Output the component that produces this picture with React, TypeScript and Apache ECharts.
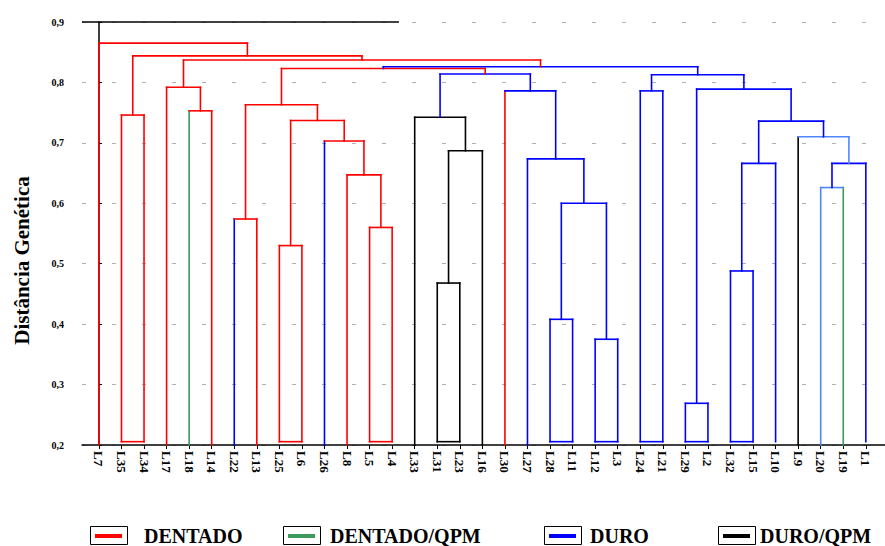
import React, { useEffect, useRef } from 'react';
import * as echarts from 'echarts';

// ---------- DATA ----------
const leaves = ['L7','L35','L34','L17','L18','L14','L22','L13','L25','L6','L26','L8','L5','L4','L33','L31','L23','L16','L30','L27','L28','L11','L12','L3','L24','L21','L29','L2','L32','L15','L10','L9','L20','L19','L1'];

// merges: [left child, right child, genetic distance]; "mK" refers to merge K
const merges: [string, string, number][] = [
  ['L29', 'L2', 0.269],   // m0
  ['L12', 'L3', 0.375],   // m1
  ['L28', 'L11', 0.408],  // m2
  ['L31', 'L23', 0.468],  // m3
  ['L32', 'L15', 0.488],  // m4
  ['L25', 'L6', 0.530],   // m5
  ['L5', 'L4', 0.560],    // m6
  ['L22', 'L13', 0.574],  // m7
  ['m2', 'm1', 0.600],    // m8
  ['L20', 'L19', 0.626],  // m9
  ['L8', 'm6', 0.647],    // m10
  ['m4', 'L10', 0.666],   // m11
  ['m9', 'L1', 0.666],    // m12
  ['L27', 'm8', 0.6735],  // m13
  ['m3', 'L16', 0.687],   // m14
  ['L26', 'm10', 0.703],  // m15
  ['L9', 'm12', 0.710],   // m16
  ['m5', 'm15', 0.737],   // m17
  ['L33', 'm14', 0.7425], // m18
  ['L35', 'L34', 0.746],  // m19
  ['L18', 'L14', 0.753],  // m20
  ['m7', 'm17', 0.763],   // m21
  ['m11', 'm16', 0.736],  // m22
  ['L24', 'L21', 0.786],  // m23
  ['L30', 'm13', 0.786],  // m24
  ['m0', 'm22', 0.789],   // m25
  ['L17', 'm20', 0.792],  // m26
  ['m23', 'm25', 0.8126], // m27
  ['m18', 'm24', 0.814],  // m28
  ['m21', 'm28', 0.823],  // m29
  ['m29', 'm27', 0.826],  // m30
  ['m26', 'm30', 0.837],  // m31
  ['m19', 'm31', 0.844],  // m32
  ['L7', 'm32', 0.865],   // m33
];

const groups = ['DENTADO', 'DENTADO/QPM', 'DURO', 'DURO/QPM'];
const yTicks = [0.2, 0.3, 0.4, 0.5, 0.6, 0.7, 0.8, 0.9];

// drawing quirks of the original figure
const boxedMerges = [0, 1, 2, 3, 4, 5, 6, 19, 23];
const shortLeaves = ['L10', 'L1'];
const BASE = 0.2;
const BOX_BOTTOM = 0.2055;
const TOP_SOLID_END = 13.3;

// ---------- STYLE ----------
const R = '#ff0000', B = '#0000ff', G = '#3b9a5c', K = '#000000', LB = '#4f86ff';
const groupColors = [R, G, B, K];
// [left arm, bar, right arm]
const one = (c: string) => [c, c, c];
const mergeColors: string[][] = [
  one(B), one(B), one(B), one(K), one(B), one(R), one(R), [B, R, R], one(B), [LB, LB, G],
  one(R), one(B), one(B), one(B), one(K), [B, R, R], [K, LB, LB], one(R), one(K), one(R),
  [G, R, R], one(R), one(B), one(B), [R, B, B], one(B), one(R), one(B), one(B), one(R),
  one(B), one(R), one(R), one(R),
];
const FONT = 'Liberation Serif';
const W = 885, H = 546;
const GRID_LEFT = 82, GRID_RIGHT = 0, GRID_TOP = 22, GRID_BOTTOM = 101;
const XMIN = -0.75, XMAX = 34.85;
const legendLefts = [90, 283, 544, 718];
const legendTextPad = [12, 5, 4, 0];
const ICON_W = 37, ICON_H = 18;

// ---------- TREE LAYOUT (data units) ----------
const nodeX: Record<string, number> = {};
const nodeH: Record<string, number> = {};
leaves.forEach((n, i) => { nodeX[n] = i; nodeH[n] = BASE; });
merges.forEach(([a, b, h], k) => { nodeX['m' + k] = (nodeX[a] + nodeX[b]) / 2; nodeH['m' + k] = h; });
const bottomOf = (ref: string, boxed: boolean) => {
  if (ref.startsWith('m')) return nodeH[ref];
  if (boxed || shortLeaves.includes(ref)) return BOX_BOTTOM;
  return BASE;
};
const treeData = merges.map(([a, b, h], k) => {
  const boxed = boxedMerges.includes(k);
  return [nodeX[a], bottomOf(a, boxed), nodeX[b], bottomOf(b, boxed), h, boxed ? 1 : 0, k];
});

const option: any = {
  animation: false,
  backgroundColor: '#ffffff',
  grid: [
    { left: GRID_LEFT, right: GRID_RIGHT, top: GRID_TOP, bottom: GRID_BOTTOM },
    (() => {
      const unit = (W - GRID_LEFT - GRID_RIGHT) / (XMAX - XMIN);
      const left = GRID_LEFT + (-0.5 - XMIN) * unit;
      const rightEdge = GRID_LEFT + (leaves.length - 0.5 - XMIN) * unit;
      return { left, right: W - rightEdge, top: GRID_TOP, bottom: GRID_BOTTOM };
    })(),
  ],
  xAxis: [
    {
      type: 'value', gridIndex: 0, min: XMIN, max: XMAX,
      axisLine: { show: true, lineStyle: { color: '#000', width: 1.5 } },
      axisTick: { show: false }, axisLabel: { show: false }, splitLine: { show: false },
    },
    {
      type: 'category', gridIndex: 1, data: leaves, boundaryGap: true,
      axisLine: { show: false },
      axisTick: { show: true, alignWithLabel: true, length: 4, lineStyle: { color: '#000' } },
      axisLabel: { interval: 0, rotate: -90, margin: 6, fontFamily: FONT, fontWeight: 'bold', fontSize: 13, color: '#000' },
      splitLine: { show: false },
    },
  ],
  yAxis: [
    {
      type: 'value', gridIndex: 0, min: yTicks[0], max: yTicks[yTicks.length - 1], interval: 0.1,
      name: 'Distância Genética', nameLocation: 'middle', nameGap: 50, nameRotate: 90,
      nameTextStyle: { fontFamily: FONT, fontWeight: 'bold', fontSize: 21, color: '#000', padding: [0, 54, 0, 0] },
      axisLine: { show: true, lineStyle: { color: '#000', width: 1.5 } },
      axisTick: { show: true, inside: true, length: 3, lineStyle: { color: '#000' } },
      axisLabel: {
        margin: 18, fontFamily: FONT, fontWeight: 'bold', fontSize: 10, color: '#000',
        formatter: (v: number) => v.toFixed(1).replace('.', ','),
      },
      splitLine: { show: true, lineStyle: { color: '#b0b0b0', width: 1, type: [4, 26] } },
    },
    { type: 'value', gridIndex: 1, min: 0, max: 1, show: false },
  ],
  legend: groups.flatMap((g, i) => {
    const pad = legendTextPad[i];
    return [
      {
        z: 3, left: legendLefts[i], top: 526, padding: 0, selectedMode: false,
        itemWidth: ICON_W, itemHeight: ICON_H, data: [g], icon: 'rect',
        itemStyle: { color: '#ffffff', borderColor: '#000', borderWidth: 1 },
        formatter: () => '',
      },
      {
        z: 4, left: legendLefts[i], top: 526, padding: 0, selectedMode: false,
        itemWidth: ICON_W + pad, itemHeight: ICON_H, data: [g],
        icon: `path://M0,0M${ICON_W + pad},${ICON_H}M5,7H32V11H5Z`,
        textStyle: { fontFamily: FONT, fontWeight: 'bold', fontSize: 20, color: '#000' },
      },
    ];
  }),
  series: [
    {
      type: 'custom', name: 'tree', xAxisIndex: 0, yAxisIndex: 0, clip: false,
      data: treeData,
      renderItem: (params: any, api: any) => {
        const xl = api.value(0), yl = api.value(1), xr = api.value(2), yr = api.value(3);
        const h = api.value(4), boxed = api.value(5), k = api.value(6);
        const [cl, cb, cr] = mergeColors[k];
        const pl0 = api.coord([xl, yl]), pl1 = api.coord([xl, h]);
        const pr1 = api.coord([xr, h]), pr0 = api.coord([xr, yr]);
        const st = (c: string) => ({ stroke: c, lineWidth: 1.6, lineCap: 'square' });
        const children: any[] = [
          { type: 'line', shape: { x1: pl0[0], y1: pl0[1], x2: pl1[0], y2: pl1[1] }, style: st(cl) },
          { type: 'line', shape: { x1: pr0[0], y1: pr0[1], x2: pr1[0], y2: pr1[1] }, style: st(cr) },
          { type: 'line', shape: { x1: pl1[0], y1: pl1[1], x2: pr1[0], y2: pr1[1] }, style: st(cb) },
        ];
        if (boxed) {
          children.push({ type: 'line', shape: { x1: pl0[0], y1: pl0[1], x2: pr0[0], y2: pr0[1] }, style: st(cb) });
        }
        return { type: 'group', children };
      },
      markLine: {
        silent: true, symbol: 'none', label: { show: false },
        lineStyle: { color: '#000', width: 1.5, type: 'solid' },
        data: [[{ coord: [XMIN, yTicks[yTicks.length - 1]] }, { coord: [TOP_SOLID_END, yTicks[yTicks.length - 1]] }]],
      },
    },
    ...groups.map((g, i) => ({
      type: 'custom', name: g, xAxisIndex: 0, yAxisIndex: 0, data: [],
      itemStyle: { color: groupColors[i] },
      renderItem: () => null,
    })),
  ],
};

export default function App() {
  const ref = useRef<HTMLDivElement>(null);
  useEffect(() => {
    const chart = echarts.init(ref.current!, null, { renderer: 'svg' });
    chart.setOption(option);
    return () => chart.dispose();
  }, []);
  return <div ref={ref} style={{ position: 'fixed', left: 0, top: 0, width: W, height: H }} />;
}
